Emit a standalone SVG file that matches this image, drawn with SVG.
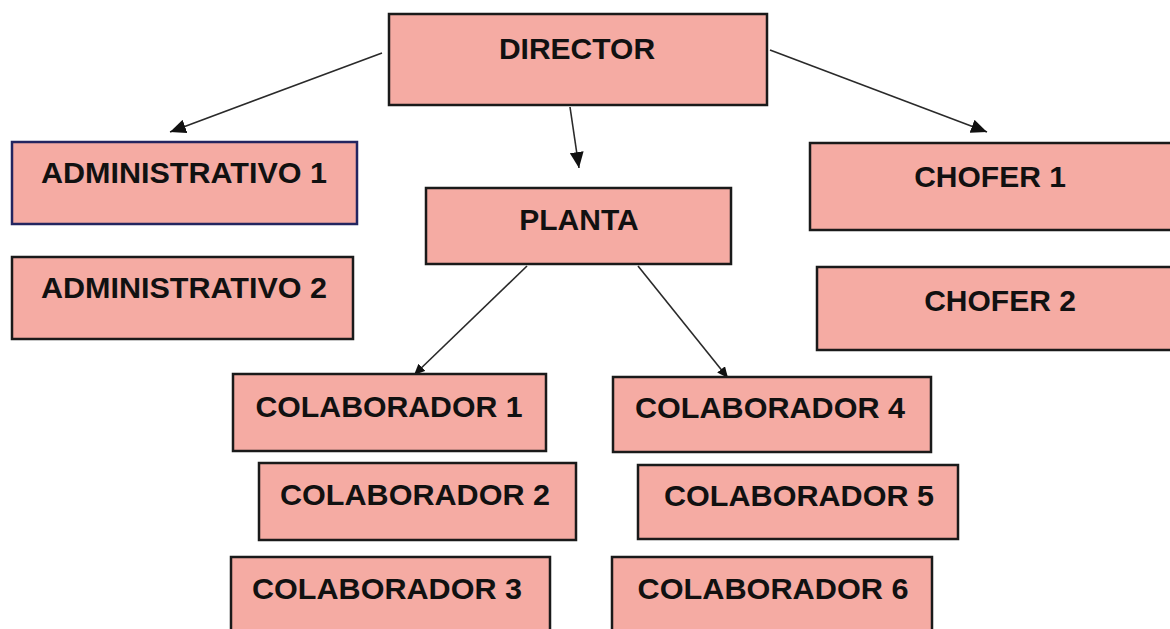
<svg xmlns="http://www.w3.org/2000/svg" width="1170" height="629" viewBox="0 0 1170 629">
  <style>
    .box { fill: #f5aba3; stroke: #1a1a1a; stroke-width: 2.5; }
    .navy { stroke: #232560; }
    .lbl { font-family: "Liberation Sans", Arial, sans-serif; font-weight: bold; font-size: 30px; fill: #111; text-anchor: middle; }
    .conn { stroke: #2a2a2a; stroke-width: 1.6; fill: none; }
  </style>
  <defs>
    <marker id="arrow" markerUnits="userSpaceOnUse" markerWidth="18" markerHeight="14" refX="16" refY="7" orient="auto">
      <path d="M0,0 L16,7 L0,14 Z" fill="#111"/>
    </marker>
    <marker id="arrowSmall" markerUnits="userSpaceOnUse" markerWidth="12" markerHeight="10" refX="11" refY="5" orient="auto">
      <path d="M0,0 L11,5 L0,10 Z" fill="#111"/>
    </marker>
  </defs>
  <rect x="0" y="0" width="1170" height="629" fill="#ffffff"/>

  <g id="connectors">
    <line class="conn" x1="382" y1="53" x2="170" y2="132" marker-end="url(#arrow)"/>
    <line class="conn" x1="570" y1="107" x2="579" y2="168" marker-end="url(#arrow)"/>
    <line class="conn" x1="770" y1="50" x2="987" y2="132" marker-end="url(#arrow)"/>
    <line class="conn" x1="527" y1="266" x2="414" y2="375" marker-end="url(#arrowSmall)"/>
    <line class="conn" x1="638" y1="266" x2="728" y2="378" marker-end="url(#arrowSmall)"/>
  </g>

  <g id="director">
    <rect class="box" x="389" y="14" width="378" height="91"/>
    <text class="lbl" x="577" y="59">DIRECTOR</text>
  </g>
  <g id="administrativo1">
    <rect class="box navy" x="12" y="142" width="345" height="82"/>
    <text class="lbl" x="184" y="183" textLength="286" lengthAdjust="spacingAndGlyphs">ADMINISTRATIVO 1</text>
  </g>
  <g id="administrativo2">
    <rect class="box" x="12" y="257" width="341" height="82"/>
    <text class="lbl" x="184" y="298" textLength="286" lengthAdjust="spacingAndGlyphs">ADMINISTRATIVO 2</text>
  </g>
  <g id="planta">
    <rect class="box" x="426" y="188" width="305" height="76"/>
    <text class="lbl" x="579" y="230">PLANTA</text>
  </g>
  <g id="chofer1">
    <rect class="box" x="810" y="143" width="362" height="87"/>
    <text class="lbl" x="990" y="187">CHOFER 1</text>
  </g>
  <g id="chofer2">
    <rect class="box" x="817" y="267" width="355" height="83"/>
    <text class="lbl" x="1000" y="311">CHOFER 2</text>
  </g>
  <g id="colaborador1">
    <rect class="box" x="233" y="374" width="313" height="77"/>
    <text class="lbl" x="389" y="417" textLength="267" lengthAdjust="spacingAndGlyphs">COLABORADOR 1</text>
  </g>
  <g id="colaborador2">
    <rect class="box" x="259" y="463" width="317" height="77"/>
    <text class="lbl" x="415" y="505" textLength="270" lengthAdjust="spacingAndGlyphs">COLABORADOR 2</text>
  </g>
  <g id="colaborador3">
    <rect class="box" x="231" y="557" width="319" height="90"/>
    <text class="lbl" x="387" y="599" textLength="270" lengthAdjust="spacingAndGlyphs">COLABORADOR 3</text>
  </g>
  <g id="colaborador4">
    <rect class="box" x="613" y="377" width="318" height="75"/>
    <text class="lbl" x="770" y="418" textLength="270" lengthAdjust="spacingAndGlyphs">COLABORADOR 4</text>
  </g>
  <g id="colaborador5">
    <rect class="box" x="638" y="465" width="320" height="74"/>
    <text class="lbl" x="799" y="506" textLength="270" lengthAdjust="spacingAndGlyphs">COLABORADOR 5</text>
  </g>
  <g id="colaborador6">
    <rect class="box" x="612" y="557" width="320" height="90"/>
    <text class="lbl" x="773" y="599" textLength="271" lengthAdjust="spacingAndGlyphs">COLABORADOR 6</text>
  </g>
</svg>
